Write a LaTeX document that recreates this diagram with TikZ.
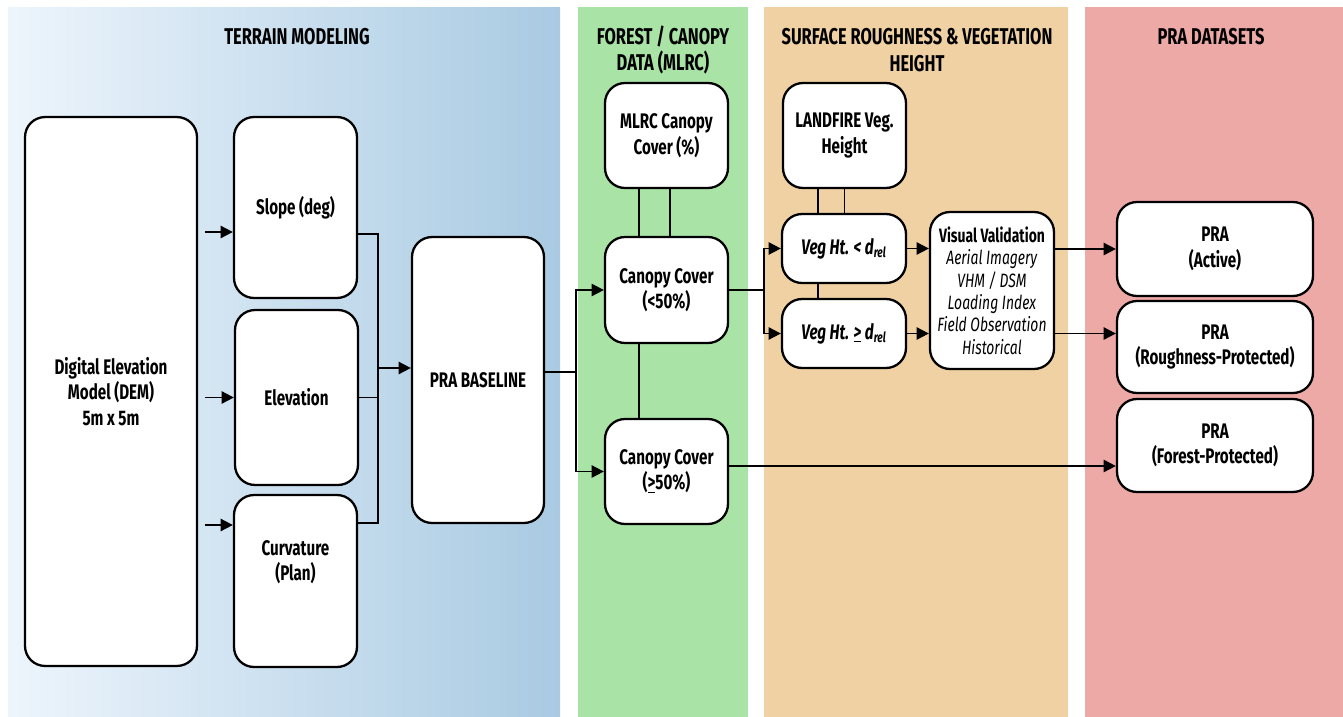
\documentclass[tikz,border=0pt]{standalone}
\usepackage{fontspec}
\setmainfont{Fira Sans}[FakeStretch=0.72]
\usetikzlibrary{arrows.meta}

\definecolor{terrainL}{HTML}{EDF5FC}
\definecolor{terrainM}{HTML}{BDDCF0}
\definecolor{terrainR}{HTML}{A9CAE2}
\definecolor{forestbg}{HTML}{A9E3A5}
\definecolor{roughbg}{HTML}{F0D1A3}
\definecolor{prabg}{HTML}{ECA9A6}

\tikzset{
  stagebox/.style={draw, line width=1.3pt, fill=white, rounded corners=0.4cm,
    align=center, inner sep=2pt, font=\bfseries\fontsize{12}{14.5}\selectfont},
  boxtext/.style={align=center, font=\bfseries\fontsize{12}{14.5}\selectfont},
  header/.style={align=center, font=\bfseries\fontsize{13}{15}\selectfont},
  flow/.style={line width=1.05pt, -{Triangle[length=7pt,width=7pt]}},
  joint/.style={line width=1.05pt}
}

\begin{document}
\begin{tikzpicture}[x=0.02cm, y=-0.02cm]
		\useasboundingbox (0,0) rectangle (1343,717);

		% panels
		\fill[left color=terrainL, middle color=terrainM, right color=terrainR] (8,7) rectangle (560,717);
		\fill[forestbg] (578,7) rectangle (748,717);
		\fill[roughbg] (764,7) rectangle (1068,717);
		\fill[prabg] (1085,7) rectangle (1343,717);

		\node[header] (hterrain) at (297,37) {TERRAIN MODELING};
		\node[header] (hforest) at (663,50) {FOREST / CANOPY\\DATA (MLRC)};
		\node[header] (hrough) at (917,50) {SURFACE ROUGHNESS \& VEGETATION\\HEIGHT};
		\node[header] (hpra) at (1211,37) {PRA DATASETS};

		% terrain modeling
		\node[stagebox, minimum width=3.44cm, minimum height=10.98cm] (dem) at (111,391.5) {Digital Elevation\\Model (DEM)\\5m x 5m};
		\node[stagebox, minimum width=2.46cm, minimum height=3.62cm] (slope) at (295.5,207.5) {Slope (deg)};
		\node[stagebox, minimum width=2.46cm, minimum height=3.5cm] (elev) at (296.5,397.5) {Elevation};
		\node[stagebox, minimum width=2.46cm, minimum height=3.44cm] (curv) at (295.5,581) {};
		\node[boxtext] (curvtext) at (295.5,562) {Curvature\\(Plan)};
		\node[stagebox, minimum width=2.64cm, minimum height=5.72cm] (base) at (478,380) {PRA BASELINE};

		\coordinate (a1) at (205,232);
		\coordinate (a2) at (205,397.5);
		\coordinate (a3) at (205,525);
		\draw[flow] (a1) -- (a1 -| slope.west);
		\draw[flow] (a2) -- (a2 -| elev.west);
		\draw[flow] (a3) -- (a3 -| curv.west);

		\coordinate (b1) at (378,234);
		\coordinate (b2) at (378,368);
		\coordinate (b3) at (378,523);
		\draw[joint] (slope.east |- b1) -- (b1) -- (b3) -- (curv.east |- b3);
		\draw[joint] (elev.east) -- (elev.east -| b1);
		\draw[flow] (b2) -- (b2 -| base.west);

		% forest / canopy
		\node[stagebox, minimum width=2.46cm, minimum height=2.1cm] (mlrc) at (666.5,135.5) {MLRC Canopy\\Cover (\%)};
		\node[stagebox, minimum width=2.46cm, minimum height=2.12cm] (cclow) at (666.5,290) {Canopy Cover\\(<50\%)};
		\node[stagebox, minimum width=2.46cm, minimum height=2.1cm] (cchigh) at (666.5,471.5) {Canopy Cover\\(\underline{>}50\%)};

		\coordinate (c0) at (576,372);
		\draw[joint] (base.east |- c0) -- (c0);
		\draw[flow] (c0) |- (cclow.west);
		\draw[flow] (c0) |- (cchigh.west);

		\draw[joint] ([xshift=-0.55cm]mlrc.south) -- ([xshift=-0.55cm]cclow.north);
		\draw[joint] ([xshift=0.07cm]mlrc.south) -- ([xshift=0.07cm]cclow.north);
		\draw[joint] ([xshift=-0.55cm]cclow.south) -- ([xshift=-0.55cm]cchigh.north);

		% surface roughness
		\node[stagebox, minimum width=2.46cm, minimum height=2.1cm] (landfire) at (844.5,135.5) {LANDFIRE Veg.\\Height};
		\node[stagebox, minimum width=2.48cm, minimum height=1.38cm] (veglt) at (844,248.5) {\itshape Veg Ht. < d\textsubscript{rel}};
		\node[stagebox, minimum width=2.48cm, minimum height=1.38cm] (vegge) at (844,333.5) {\itshape Veg Ht. \underline{>} d\textsubscript{rel}};
		\node[stagebox, minimum width=2.48cm, minimum height=3.14cm, font=\fontsize{11}{12.7}\selectfont] (vv) at (992,290.5)
			{\textbf{Visual Validation}\\\textit{Aerial Imagery}\\\textit{VHM / DSM}\\\textit{Loading Index}\\\textit{Field Observation}\\\textit{Historical}};

		\draw[joint] ([xshift=-0.53cm]landfire.south) -- ([xshift=-0.53cm]landfire.south |- veglt.north);
		\draw[joint] (landfire.south) -- (landfire.south |- veglt.north);
		\draw[joint] ([xshift=-0.52cm]veglt.south) -- ([xshift=-0.52cm]vegge.north);

		\coordinate (d0) at (764,290);
		\draw[joint] (cclow.east) -- (d0);
		\draw[flow] (d0) |- (veglt.west);
		\draw[flow] (d0) |- (vegge.west);
		\draw[flow] (veglt.east) -- (veglt.east -| vv.west);
		\draw[flow] (vegge.east) -- (vegge.east -| vv.west);

		% pra datasets
		\node[stagebox, minimum width=3.92cm, minimum height=1.88cm] (praactive) at (1215,249) {PRA\\(Active)};
		\node[stagebox, minimum width=3.92cm, minimum height=1.84cm] (prarough) at (1215,347) {PRA\\(Roughness-Protected)};
		\node[stagebox, minimum width=3.92cm, minimum height=1.86cm] (praforest) at (1215,445.5) {PRA\\(Forest-Protected)};

		\draw[flow] (vv.east |- praactive.west) -- (praactive.west);
		\draw[flow] (vv.east |- vegge.east) -- (prarough.west |- vegge.east);
		\coordinate (f0) at ([yshift=0.11cm]cchigh.east);
		\draw[flow] (f0) -- (f0 -| praforest.west);
	\end{tikzpicture}
\end{document}
